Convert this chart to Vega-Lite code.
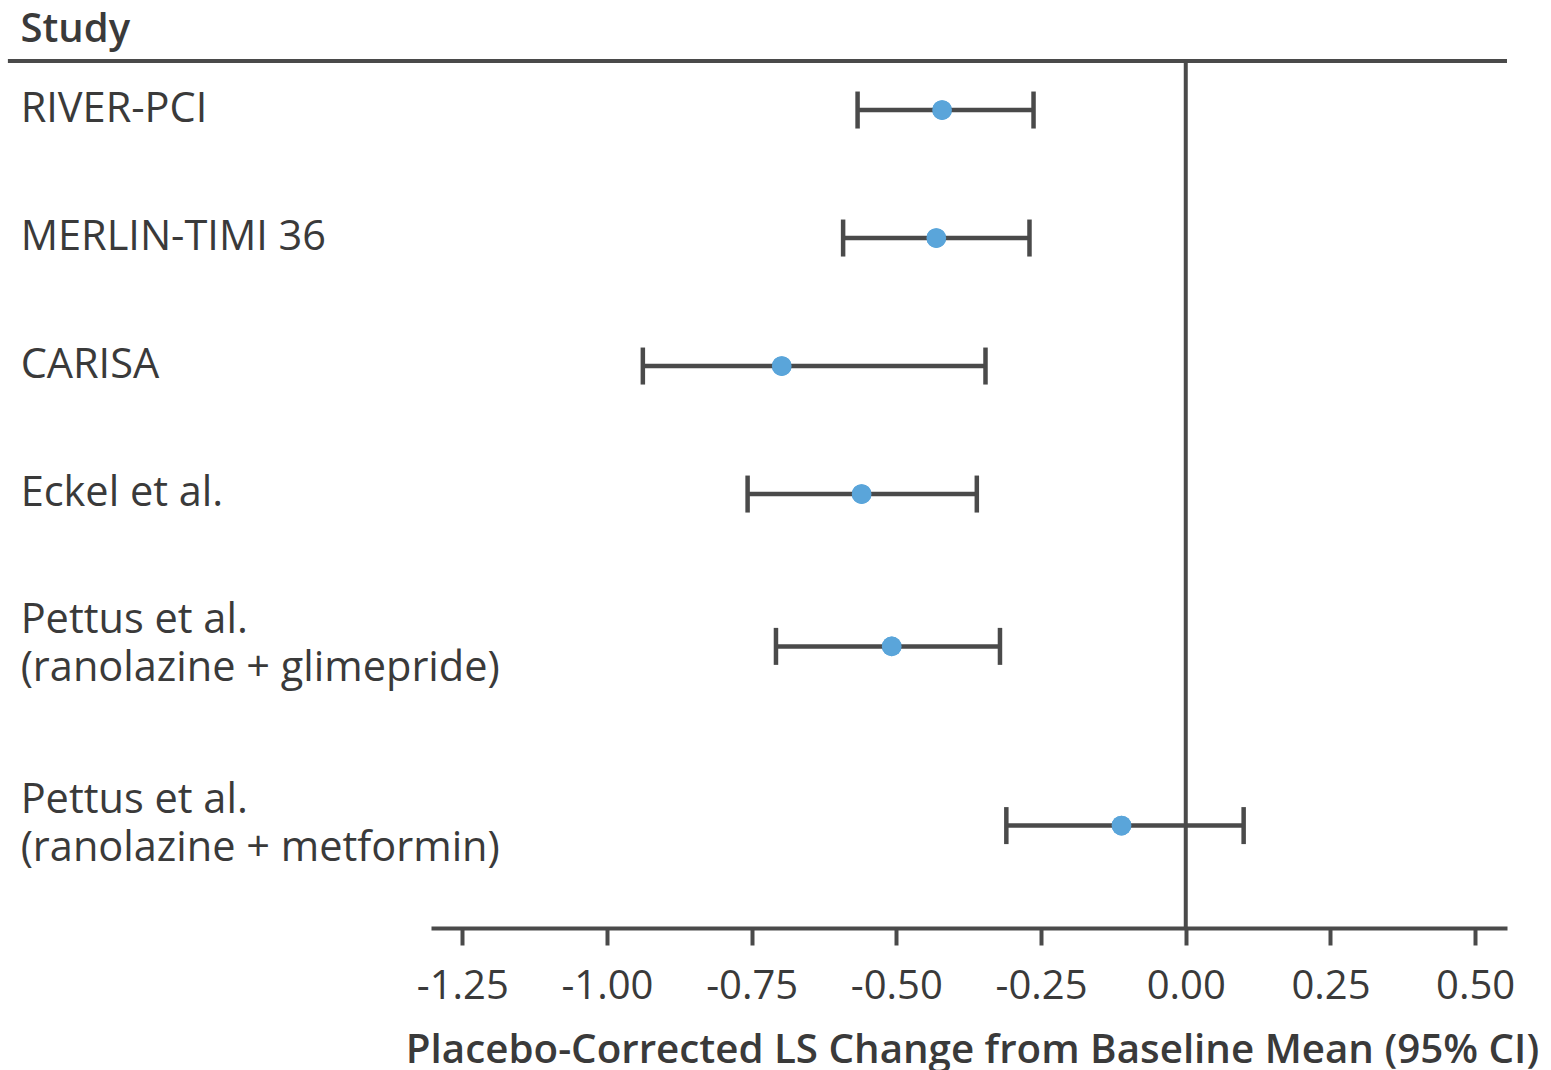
{
  "$schema": "https://vega.github.io/schema/vega-lite/v6.json",
  "width": 1076,
  "height": 867,
  "autosize": {"type": "none"},
  "padding": {"left": 431, "top": 61, "right": 44, "bottom": 142},
  "background": "white",
  "config": {"view": {"stroke": null}, "font": "Open Sans"},
  "data": {
    "values": [
      {"label": "RIVER-PCI", "row": 1, "est": -0.421, "lo": -0.567, "hi": -0.263},
      {"label": "MERLIN-TIMI 36", "row": 2, "est": -0.431, "lo": -0.592, "hi": -0.270},
      {"label": "CARISA", "row": 3, "est": -0.698, "lo": -0.938, "hi": -0.346},
      {"label": "Eckel et al.", "row": 4, "est": -0.560, "lo": -0.757, "hi": -0.361},
      {"label": "Pettus et al.\n(ranolazine + glimepride)", "row": 5.19, "est": -0.508, "lo": -0.708, "hi": -0.321},
      {"label": "Pettus et al.\n(ranolazine + metformin)", "row": 6.59, "est": -0.111, "lo": -0.310, "hi": 0.100}
    ]
  },
  "layer": [
    {
      "mark": {"type": "circle", "size": 390, "color": "#5aa5da", "opacity": 1},
      "encoding": {
        "x": {
          "field": "est", "type": "quantitative",
          "scale": {"domain": [-1.304, 0.555], "nice": false, "zero": false},
          "axis": {
            "values": [-1.25, -1, -0.75, -0.5, -0.25, 0, 0.25, 0.5],
            "labelExpr": "replace(format(datum.value, '.2f'), '\u2212', '-')",
            "title": "Placebo-Corrected LS Change from Baseline Mean (95% CI)",
            "grid": false,
            "domainColor": "#4a4a4a", "domainWidth": 4,
            "tickColor": "#4a4a4a", "tickWidth": 4, "tickSize": 17,
            "labelFont": "Open Sans", "labelFontSize": 40, "labelColor": "#3a3a3a", "labelPadding": 21,
            "labelFlush": false, "labelOverlap": false,
            "titleFont": "Open Sans", "titleFontSize": 40.3, "titleFontWeight": 600, "titleColor": "#3a3a3a",
            "titleBaseline": "alphabetic", "titleY": 134, "titleX": 541, "titleAlign": "center"
          }
        },
        "y": {
          "field": "row", "type": "quantitative",
          "scale": {"domain": [0.617, 7.39], "reverse": true, "nice": false, "zero": false},
          "axis": {
            "title": "Study", "labels": false, "ticks": false, "domain": false, "grid": false,
            "titleAngle": 0, "titleAlign": "left", "titleBaseline": "alphabetic",
            "titleX": -411, "titleY": -20,
            "titleFont": "Open Sans", "titleFontSize": 40, "titleFontWeight": 600, "titleColor": "#3a3a3a"
          }
        }
      }
    },
    {
      "data": {"values": [{}]},
      "mark": {"type": "rule", "color": "#4a4a4a", "strokeWidth": 4},
      "encoding": {
        "x": {"datum": -2.035, "type": "quantitative"},
        "x2": {"datum": 0.555},
        "y": {"datum": 0.617, "type": "quantitative"}
      }
    },
    {
      "data": {"values": [{}]},
      "mark": {"type": "rule", "color": "#4a4a4a", "strokeWidth": 4},
      "encoding": {
        "x": {"datum": 0, "type": "quantitative"}
      }
    },
    {
      "mark": {"type": "rule", "color": "#4a4a4a", "strokeWidth": 4.5},
      "encoding": {
        "x": {"field": "lo", "type": "quantitative"},
        "x2": {"field": "hi"},
        "y": {"field": "row", "type": "quantitative"}
      }
    },
    {
      "mark": {"type": "tick", "orient": "vertical", "size": 37, "thickness": 4.5, "color": "#4a4a4a", "opacity": 1},
      "encoding": {
        "x": {"field": "lo", "type": "quantitative"},
        "y": {"field": "row", "type": "quantitative"}
      }
    },
    {
      "mark": {"type": "tick", "orient": "vertical", "size": 37, "thickness": 4.5, "color": "#4a4a4a", "opacity": 1},
      "encoding": {
        "x": {"field": "hi", "type": "quantitative"},
        "y": {"field": "row", "type": "quantitative"}
      }
    },
    {
      "mark": {"type": "circle", "size": 390, "color": "#5aa5da", "opacity": 1},
      "encoding": {
        "x": {"field": "est", "type": "quantitative"},
        "y": {"field": "row", "type": "quantitative"}
      }
    },
    {
      "transform": [{"filter": "indexof(datum.label, '(') < 0"}],
      "mark": {"type": "text", "align": "left", "baseline": "middle", "fontSize": 41.5, "fontWeight": 500, "color": "#3a3a3a", "font": "Open Sans"},
      "encoding": {
        "x": {"datum": -2.013, "type": "quantitative"},
        "y": {"field": "row", "type": "quantitative"},
        "text": {"field": "label"}
      }
    },
    {
      "transform": [{"filter": "indexof(datum.label, '(') >= 0"}],
      "mark": {"type": "text", "align": "left", "baseline": "middle", "fontSize": 41.5, "fontWeight": 500, "lineBreak": "\n", "lineHeight": 48, "dy": -25, "color": "#3a3a3a", "font": "Open Sans"},
      "encoding": {
        "x": {"datum": -2.013, "type": "quantitative"},
        "y": {"field": "row", "type": "quantitative"},
        "text": {"field": "label"}
      }
    }
  ]
}
